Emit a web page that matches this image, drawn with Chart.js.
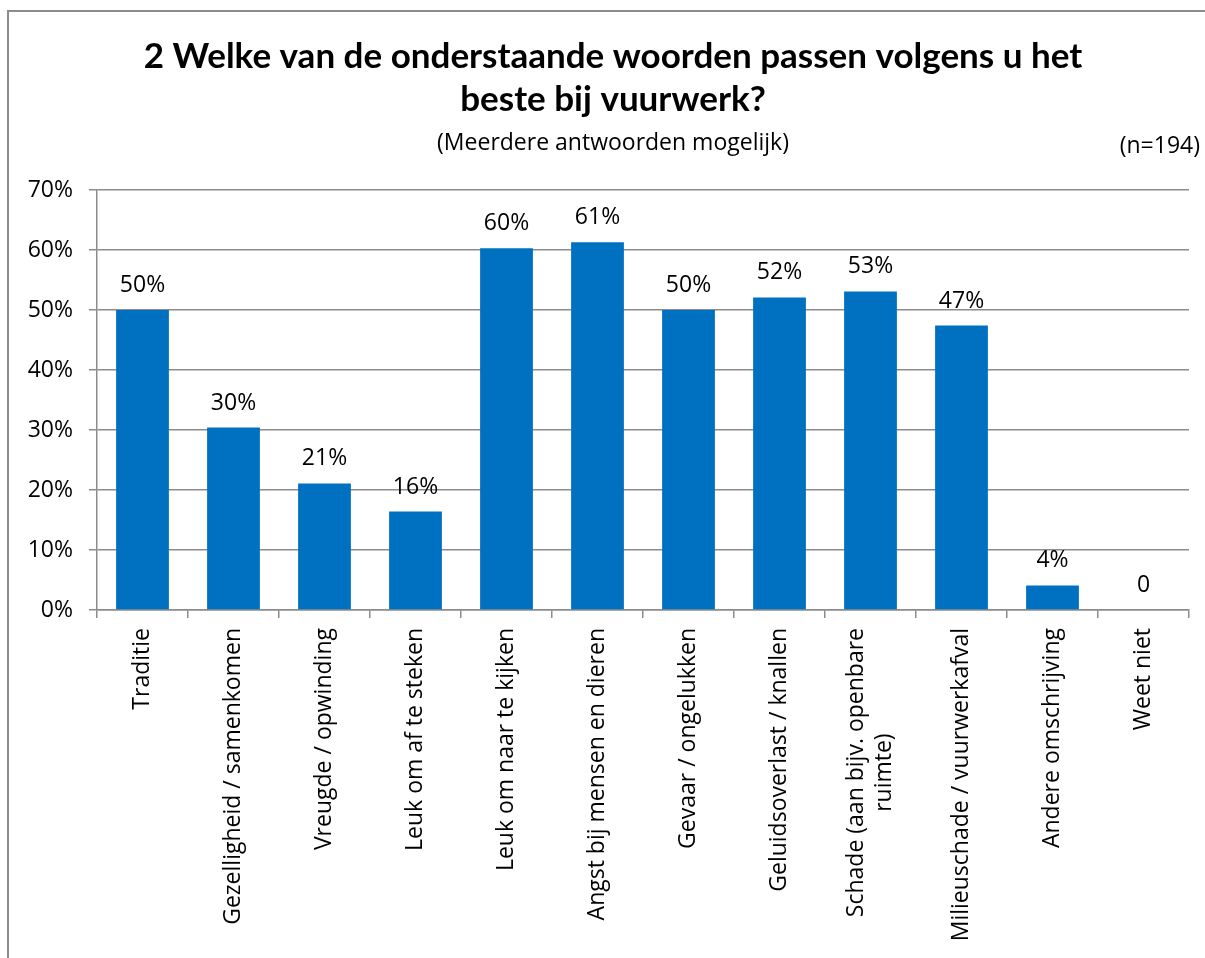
<!DOCTYPE html>
<html>
<head>
<meta charset="utf-8">
<script src="https://cdn.jsdelivr.net/npm/chart.js@4.4.1/dist/chart.umd.min.js"></script>
<style>
html,body{margin:0;padding:0;background:#fff;}
#wrap{width:1205px;height:958px;position:relative;}
</style>
</head>
<body>
<div id="wrap"><canvas id="c" width="1205" height="958"></canvas></div>
<script>
const categories = [
  'Traditie',
  'Gezelligheid / samenkomen',
  'Vreugde / opwinding',
  'Leuk om af te steken',
  'Leuk om naar te kijken',
  'Angst bij mensen en dieren',
  'Gevaar / ongelukken',
  'Geluidsoverlast / knallen',
  ['Schade (aan bijv. openbare', 'ruimte)'],
  'Milieuschade / vuurwerkafval',
  'Andere omschrijving',
  'Weet niet'
];
const percentages = [50.0, 30.4, 21.1, 16.4, 60.3, 61.3, 50.0, 52.1, 53.1, 47.4, 4.1, 0];
const yTicks = [0, 10, 20, 30, 40, 50, 60, 70];
const titleLines = ['2 Welke van de onderstaande woorden passen volgens u het', 'beste bij vuurwerk?'];
const subtitleText = '(Meerdere antwoorden mogelijk)';
const sampleText = '(n=194)';

const LABEL_FONT = '"Open Sans", sans-serif';
const FS = 23;

const framePlugin = {
  id: 'frame',
  beforeDraw(chart) {
    const ctx = chart.ctx;
    ctx.save();
    ctx.fillStyle = '#fff';
    ctx.fillRect(0, 0, chart.width, chart.height);
    ctx.strokeStyle = '#8c8c8c';
    ctx.lineWidth = 2;
    ctx.beginPath();
    ctx.moveTo(8, chart.height);
    ctx.lineTo(8, 11);
    ctx.lineTo(chart.width + 2, 11);
    ctx.stroke();
    ctx.restore();
  },
  afterDraw(chart) {
    const ctx = chart.ctx;
    ctx.save();
    ctx.fillStyle = '#000';
    ctx.textBaseline = 'middle';

    // titles
    ctx.textAlign = 'center';
    ctx.font = 'bold 35px Lato, sans-serif';
    ctx.fillText(titleLines[0], 613, 57);
    ctx.fillText(titleLines[1], 613, 100);
    ctx.font = FS + 'px ' + LABEL_FONT;
    ctx.fillText(subtitleText, 613, 143);

    ctx.textAlign = 'right';
    ctx.fillText(sampleText, 1200, 146);

    // category labels, rotated, read bottom-to-top, multi-line centred
    const xs = chart.scales.x;
    const top = chart.chartArea.bottom + 18;
    const lh = 28;
    categories.forEach((lab, i) => {
      const lines = Array.isArray(lab) ? lab : [lab];
      const cx = xs.getPixelForTick(i);
      const widths = lines.map(l => ctx.measureText(l).width);
      const maxW = Math.max(...widths);
      lines.forEach((l, j) => {
        const lx = cx + (j - (lines.length - 1) / 2) * lh;
        ctx.save();
        ctx.translate(lx, top);
        ctx.rotate(-Math.PI / 2);
        ctx.textBaseline = 'middle';
        if (lines.length > 1) {
          ctx.textAlign = 'center';
          ctx.fillText(l, -maxW / 2, 0);
        } else {
          ctx.textAlign = 'right';
          ctx.fillText(l, 0, 0);
        }
        ctx.restore();
      });
    });
    ctx.restore();
  }
};

const valueLabels = {
  id: 'valueLabels',
  afterDatasetsDraw(chart) {
    const ctx = chart.ctx;
    const meta = chart.getDatasetMeta(0);
    ctx.save();
    ctx.font = FS + 'px ' + LABEL_FONT;
    ctx.fillStyle = '#000';
    ctx.textAlign = 'center';
    ctx.textBaseline = 'alphabetic';
    meta.data.forEach((bar, i) => {
      const v = percentages[i];
      const txt = v === 0 ? '0' : Math.round(v) + '%';
      ctx.fillText(txt, bar.x, bar.y - 18);
    });
    ctx.restore();
  }
};

new Chart(document.getElementById('c'), {
  type: 'bar',
  data: {
    labels: categories,
    datasets: [{
      data: percentages,
      backgroundColor: '#0070C0',
      borderWidth: 0,
      categoryPercentage: 0.58,
      barPercentage: 1.0
    }]
  },
  options: {
    responsive: false,
    animation: false,
    devicePixelRatio: 1,
    layout: { padding: { left: 0, right: 16, top: 190, bottom: 0 } },
    plugins: {
      legend: { display: false },
      tooltip: { enabled: false },
      title: { display: false },
      subtitle: { display: false }
    },
    scales: {
      x: {
        grid: { display: true, drawOnChartArea: false, drawTicks: true, tickLength: 8, color: '#8c8c8c', lineWidth: 1.5, offset: true },
        border: { display: true, color: '#8c8c8c', width: 1.5 },
        ticks: { display: false, autoSkip: false },
        afterFit(scale) { scale.height = 348; }
      },
      y: {
        min: 0,
        max: 70,
        afterBuildTicks(scale) { scale.ticks = yTicks.map(v => ({ value: v })); },
        grid: { color: '#8c8c8c', lineWidth: 1.5, tickLength: 8, drawTicks: true },
        border: { display: true, color: '#8c8c8c', width: 1.5 },
        ticks: {
          color: '#000',
          font: { family: LABEL_FONT, size: FS },
          padding: 16,
          callback: v => v + '%'
        },
        afterFit(scale) { scale.width = 97; }
      }
    }
  },
  plugins: [framePlugin, valueLabels]
});
</script>
</body>
</html>
